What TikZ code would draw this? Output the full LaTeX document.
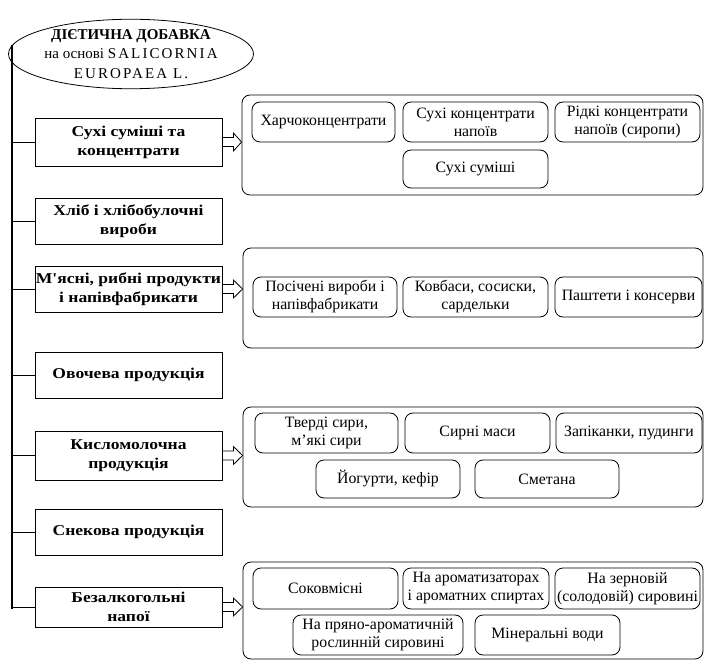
\documentclass[tikz,border=0pt]{standalone}
\usepackage{fontspec}
\setmainfont{Liberation Serif}
\newfontface\widebf[FakeStretch=1.17]{Liberation Serif Bold}
\newfontface\latsp[LetterSpace=14]{Liberation Serif}
\usetikzlibrary{shapes.geometric,calc}
\begin{document}
\begin{tikzpicture}[x=1pt,y=-1pt,
  cat/.style={draw,line width=0.8pt,font=\widebf\fontsize{15}{19}\selectfont,align=center,minimum width=187pt,minimum height=46pt,inner sep=0.5pt},
  grpbox/.style={draw,line width=0.8pt,rounded corners=8pt,minimum width=461pt,minimum height=100pt,inner sep=0pt},
  sub/.style={draw,line width=0.8pt,rounded corners=8pt,font=\fontsize{15.8}{18}\selectfont,align=center,inner sep=0.5pt,minimum height=40pt,minimum width=145pt},
  trunk/.style={line width=2.2pt},
  branch/.style={line width=0.9pt},
  hollow/.style={draw,line width=0.8pt,fill=white,line join=miter}
]
\useasboundingbox (0,0) rectangle (707,660);

% head ellipse
\node[ellipse,draw,line width=0.8pt,minimum width=222pt,minimum height=66pt,inner sep=0pt,align=center,
  font=\fontsize{15}{19.5}\selectfont] (ell) at (131,54)
  {\textbf{ДІЄТИЧНА ДОБАВКА}\\на основі {\latsp SALICORNIA}\\{\latsp EUROPAEA L.}};

% categories
\node[cat,minimum height=48pt] (c1) at (128.5,142) {Сухі суміші та\\концентрати};
\node[cat] (c2) at (128.5,221) {Хліб і хлібобулочні\\вироби};
\node[cat] (c3) at (128.5,289) {М'ясні, рибні продукти\\і напівфабрикати};
\node[cat] (c4) at (128.5,375) {Овочева продукція};
\node[cat,minimum height=49pt] (c5) at (128.5,455.5) {Кисломолочна\\продукція};
\node[cat] (c6) at (128.5,532) {Снекова продукція};
\node[cat,minimum height=40pt] (c7) at (128.5,607) {Безалкогольні\\напої};

% trunk
\coordinate (tb) at (12,609);
\draw[branch] (ell.176) -- (ell.176 -| tb);
\draw[trunk] ($(ell.176 -| tb)+(0,-0.5)$) -- (tb);
\foreach \c in {c1,c2,c3,c4,c5,c6,c7}{
  \draw[branch] (\c.west -| tb) -- (\c.west);
}

% group boxes
\node[grpbox] (g1) at (472.5,145) {};
\node[grpbox,minimum width=460pt] (g2) at (473,298) {};
\node[grpbox,minimum width=460pt] (g3) at (473,457) {};
\node[grpbox,minimum width=460pt,minimum height=97pt] (g4) at (473,610.5) {};

% hollow arrows
\foreach \c/\g in {c1/g1,c3/g2,c5/g3,c7/g4}{
  \draw[hollow] ($(\c.east)+(0,-4.5)$) -- ++(11,0) -- ++(0,-4.5) -- ($(\c.east -| \g.west)$)
     -- ($(\c.east)+(11,9)$) -- ++(0,-4.5) -- ($(\c.east)+(0,4.5)$) -- cycle;
}

% group 1
\node[sub,minimum width=143pt] (h1) at (323.5,122) {Харчоконцентрати};
\node[sub] (h2) at (475.5,122) {Сухі концентрати\\напоїв};
\node[sub] (h3) at (627.5,122) {Рідкі концентрати\\напоїв (сиропи)};
\node[sub,minimum height=38pt] (h4) at (475.5,169) {Сухі суміші};

% group 2
\node[sub,minimum width=144pt] (m1) at (325,297) {Посічені вироби і\\напівфабрикати};
\node[sub] (m2) at (475.5,297) {Ковбаси, сосиски,\\сардельки};
\node[sub,minimum width=147pt] (m3) at (628.5,297) {Паштети і консерви};

% group 3
\node[sub,minimum width=143pt] (k1) at (326.5,433) {Тверді сири,\\м'які сири};
\node[sub] (k2) at (477.5,433) {Сирні маси};
\node[sub,minimum width=146pt] (k3) at (629,433) {Запіканки, пудинги};
\node[sub,minimum width=144pt,minimum height=38pt] (k4) at (388,479) {Йогурти, кефір};
\node[sub,minimum width=144pt,minimum height=38pt] (k5) at (547,479) {Сметана};

% group 4
\node[sub,minimum height=41pt] (b1) at (325.5,588.5) {Соковмісні};
\node[sub,minimum width=146pt,minimum height=41pt] (b2) at (476,588.5) {На ароматизаторах\\і ароматних спиртах};
\node[sub,minimum height=41pt] (b3) at (627.5,588.5) {На зерновій\\(солодовій) сировині};
\node[sub,minimum width=170pt,minimum height=40pt] (b4) at (378,635) {На пряно-ароматичній\\рослинній сировині};
\node[sub,minimum height=40pt] (b5) at (547.5,635) {Мінеральні води};
\end{tikzpicture}
\end{document}
